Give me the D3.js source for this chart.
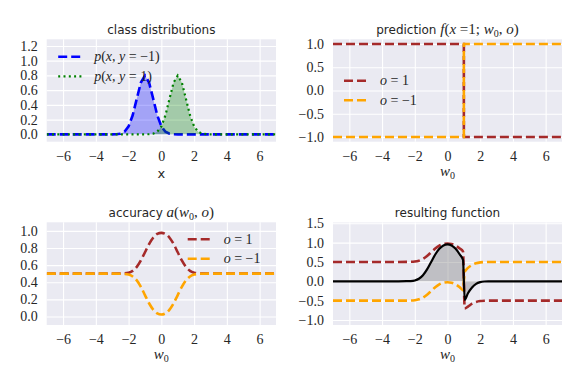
<!DOCTYPE html>
<html>
<head>
<meta charset="utf-8">
<script src="https://cdn.jsdelivr.net/npm/d3@7"></script>
<style>
  body { margin: 0; background: #fff; }
  .title { font-family: "DejaVu Sans", sans-serif; font-size: 12px; fill: #262626; }
  .math { font-family: "Liberation Serif", serif; font-size: 14px; fill: #262626; }
</style>
</head>
<body>
<svg id="chart"></svg>
<script>
// ---- data ----
var xTicks = [-6, -4, -2, 0, 2, 4, 6];

// class distributions
var xDist = [-7,-6,-5,-4,-3,-2.75,-2.5,-2.25,-2,-1.75,-1.5,-1.25,-1,-0.75,-0.5,-0.25,0,0.25,0.5,0.75,1,1.25,1.5,1.75,2,2.25,2.5,2.75,3,4,5,6,7];
var pNeg = [0,0,0,0,0,0.002,0.009,0.035,0.108,0.259,0.484,0.704,0.798,0.704,0.484,0.259,0.108,0.035,0.009,0.002,0,0,0,0,0,0,0,0,0,0,0,0,0];
var pPos = [0,0,0,0,0,0,0,0,0,0,0,0,0,0.002,0.009,0.035,0.108,0.259,0.484,0.704,0.798,0.704,0.484,0.259,0.108,0.035,0.009,0.002,0,0,0,0,0];

// prediction f(x=1; w0, o)
var xPred = [-7, 1, 1, 7];
var predPos = [1, 1, -1, -1];
var predNeg = [-1, -1, 1, 1];

// accuracy a(w0, o)
var xAcc = [-7,-6,-5,-4,-3,-2.5,-2.25,-2,-1.75,-1.5,-1.25,-1,-0.75,-0.5,-0.25,0,0.25,0.5,0.75,1,1.25,1.5,1.75,2,2.25,2.5,3,4,5,6,7];
var accPos = [0.5,0.5,0.5,0.5,0.5,0.501,0.503,0.511,0.533,0.579,0.654,0.75,0.846,0.92,0.964,0.977,0.964,0.92,0.846,0.75,0.654,0.579,0.533,0.511,0.503,0.501,0.5,0.5,0.5,0.5,0.5];
var accNeg = [0.5,0.5,0.5,0.5,0.5,0.499,0.497,0.489,0.467,0.421,0.346,0.25,0.154,0.08,0.036,0.023,0.036,0.08,0.154,0.25,0.346,0.421,0.467,0.489,0.497,0.499,0.5,0.5,0.5,0.5,0.5];

// resulting function
var xRes = [-7,-6,-5,-4,-3,-2.5,-2.25,-2,-1.75,-1.5,-1.25,-1,-0.75,-0.5,-0.25,0,0.25,0.5,0.75,0.95,1.05,1.25,1.5,1.75,2,2.25,2.5,3,4,5,6,7];
var resPos = [0.5,0.5,0.5,0.5,0.5,0.501,0.503,0.511,0.533,0.579,0.654,0.75,0.846,0.92,0.964,0.977,0.964,0.92,0.846,0.77,-0.7,-0.654,-0.579,-0.533,-0.511,-0.503,-0.501,-0.5,-0.5,-0.5,-0.5,-0.5];
var resNeg = [-0.5,-0.5,-0.5,-0.5,-0.5,-0.499,-0.497,-0.489,-0.467,-0.421,-0.346,-0.25,-0.154,-0.08,-0.036,-0.023,-0.036,-0.08,-0.154,-0.23,0.24,0.346,0.421,0.467,0.489,0.497,0.499,0.5,0.5,0.5,0.5,0.5];
var resSum = [0,0,0,0,0,0.002,0.006,0.022,0.066,0.158,0.308,0.5,0.692,0.84,0.928,0.954,0.928,0.84,0.692,0.55,-0.48,-0.308,-0.158,-0.066,-0.022,-0.006,-0.002,0,0,0,0,0];

var brown = "#a52a2a", orange = "#ffa500";
var serif = "'Liberation Serif', serif";

var svg = d3.select("#chart").attr("width", 582).attr("height", 386);

function zip(xs, ys) { return xs.map(function(x, i) { return {x: x, y: ys[i]}; }); }

function rich(sel, parts) {
    parts.forEach(function(p) {
        var t = sel.append("tspan").text(p.t);
        if (p.i) t.style("font-style", "italic");
        if (p.f) t.style("font-family", p.f).style("font-size", p.fs || null);
        if (p.sub) t.style("font-size", "10px").attr("dy", 3);
        if (p.dy) t.attr("dy", p.dy);
    });
}

var panelId = 0;
function makeAxes(box, yDom, yTicks) {
    var id = "clip" + (panelId++);
    var g = svg.append("g").attr("transform", "translate(" + box.left + "," + box.top + ")");
    var x = d3.scaleLinear().domain([-7, 7]).range([0, box.w]);
    var y = d3.scaleLinear().domain(yDom).range([box.h, 0]);

    g.append("rect").attr("width", box.w).attr("height", box.h).attr("fill", "#eaeaf2");
    g.append("clipPath").attr("id", id).append("rect").attr("width", box.w).attr("height", box.h);

    var xa = g.append("g").attr("transform", "translate(0," + box.h + ")")
        .call(d3.axisBottom(x).tickValues(xTicks).tickSizeInner(-box.h).tickSizeOuter(0).tickPadding(9).tickFormat(d3.format("d")));
    var ya = g.append("g")
        .call(d3.axisLeft(y).tickValues(yTicks).tickSizeInner(-box.w).tickSizeOuter(0).tickPadding(9).tickFormat(d3.format(".1f")));
    [xa, ya].forEach(function(a) {
        a.select(".domain").remove();
        a.selectAll("line").attr("stroke", "#fff").attr("stroke-width", 1.1);
        a.selectAll("text")
            .style("font-family", serif)
            .style("font-size", "14px")
            .style("fill", "#262626");
    });

    var plot = g.append("g").attr("clip-path", "url(#" + id + ")");
    return {g: g, plot: plot, x: x, y: y, box: box};
}

function addLine(ax, data, color, width, dash, curve) {
    var line = d3.line().x(function(d) { return ax.x(d.x); }).y(function(d) { return ax.y(d.y); })
        .curve(curve || d3.curveLinear);
    ax.plot.append("path").datum(data).attr("d", line)
        .attr("fill", "none").attr("stroke", color).attr("stroke-width", width)
        .attr("stroke-dasharray", dash);
}

function addArea(ax, data, color, opacity, curve) {
    var area = d3.area().x(function(d) { return ax.x(d.x); }).y0(ax.y(0)).y1(function(d) { return ax.y(d.y); })
        .curve(curve || d3.curveLinear);
    ax.plot.append("path").datum(data).attr("d", area).attr("fill", color).attr("fill-opacity", opacity);
}

function title(ax, parts) {
    var t = ax.g.append("text").attr("class", "title").attr("x", ax.box.w / 2).attr("y", -5.5)
        .attr("text-anchor", "middle");
    rich(t, parts);
}

function mathTitle(label, sym) {
    // "label sym(w0, o)" with the math part in serif
    var m = {f: serif, fs: "15px"};
    return [{t: label + " "}, Object.assign({t: sym, i: true}, m)].concat(sym === "f" ? [
        Object.assign({t: "("}, m), Object.assign({t: "x", i: true}, m), Object.assign({t: " =1; "}, m)
    ] : [Object.assign({t: "("}, m)]).concat([
        Object.assign({t: "w", i: true}, m), {t: "0", sub: true, f: serif},
        Object.assign({t: ", ", dy: -3}, m), Object.assign({t: "o", i: true}, m), Object.assign({t: ")"}, m)
    ]);
}

function xlabelW(ax, yOff) {
    var t = ax.g.append("text").attr("class", "math").attr("x", ax.box.w / 2).attr("y", ax.box.h + yOff)
        .attr("text-anchor", "middle").style("font-size", "15px");
    rich(t, [{t: "w", i: true}, {t: "0", sub: true}]);
}

function legend(ax, x0, y0, rows) {
    rows.forEach(function(r, i) {
        var yy = y0 + i * 19.5;
        ax.g.append("line").attr("x1", x0).attr("x2", x0 + 24).attr("y1", yy).attr("y2", yy)
            .attr("stroke", r.color).attr("stroke-width", r.width).attr("stroke-dasharray", r.dash);
        var t = ax.g.append("text").attr("class", "math").attr("x", x0 + 36).attr("y", yy + 4.5);
        rich(t, r.label);
    });
}

var dashed = "9,4";
var dotted = "2,3.3";
var smooth = d3.curveMonotoneX;

// ---- panel 1: class distributions ----
var a1 = makeAxes({left: 46.7, top: 39.3, w: 229.3, h: 102.4}, [-0.1, 1.29], [0, 0.2, 0.4, 0.6, 0.8, 1.0, 1.2]);
addArea(a1, zip(xDist, pNeg), "blue", 0.3);
addLine(a1, zip(xDist, pNeg), "blue", 2.6, dashed);
addArea(a1, zip(xDist, pPos), "green", 0.3);
addLine(a1, zip(xDist, pPos), "green", 2.2, dotted);
title(a1, [{t: "class distributions"}]);
a1.g.append("text").attr("class", "title").attr("x", a1.box.w / 2).attr("y", a1.box.h + 36)
    .attr("text-anchor", "middle").style("font-size", "13px").text("x");
legend(a1, 11.5, 17.5, [
    {color: "blue", width: 2.6, dash: dashed,
     label: [{t: "p", i: true}, {t: "("}, {t: "x", i: true}, {t: ", "}, {t: "y", i: true}, {t: " = −1)"}]},
    {color: "green", width: 2.2, dash: dotted,
     label: [{t: "p", i: true}, {t: "("}, {t: "x", i: true}, {t: ", "}, {t: "y", i: true}, {t: " = 1)"}]}
]);

// ---- panel 2: prediction ----
var a2 = makeAxes({left: 333, top: 39.3, w: 229, h: 102.4}, [-1.1, 1.1], [-1, -0.5, 0, 0.5, 1]);
addLine(a2, zip(xPred, predPos), brown, 2.6, dashed);
addLine(a2, zip(xPred, predNeg), orange, 2.6, dashed);
title(a2, mathTitle("prediction", "f"));
xlabelW(a2, 34);
legend(a2, 11, 41.5, [
    {color: brown, width: 2.6, dash: dashed, label: [{t: "o", i: true}, {t: " = 1"}]},
    {color: orange, width: 2.6, dash: dashed, label: [{t: "o", i: true}, {t: " = −1"}]}
]);

// ---- panel 3: accuracy ----
var a3 = makeAxes({left: 46.7, top: 222.3, w: 229.3, h: 102.7}, [-0.1, 1.1], [0, 0.2, 0.4, 0.6, 0.8, 1.0]);
addLine(a3, zip(xAcc, accPos), brown, 2.6, dashed, smooth);
addLine(a3, zip(xAcc, accNeg), orange, 2.6, dashed, smooth);
title(a3, mathTitle("accuracy", "a"));
xlabelW(a3, 34);
legend(a3, 141, 17, [
    {color: brown, width: 2.6, dash: dashed, label: [{t: "o", i: true}, {t: " = 1"}]},
    {color: orange, width: 2.6, dash: dashed, label: [{t: "o", i: true}, {t: " = −1"}]}
]);

// ---- panel 4: resulting function ----
var a4 = makeAxes({left: 333, top: 222.5, w: 229, h: 102.5}, [-1.13, 1.52], [-1, -0.5, 0, 0.5, 1, 1.5]);
addArea(a4, zip(xRes, resSum), "gray", 0.4, smooth);
addLine(a4, zip(xRes, resPos), brown, 2.6, dashed, smooth);
addLine(a4, zip(xRes, resNeg), orange, 2.6, dashed, smooth);
addLine(a4, zip(xRes, resSum), "black", 2.2, null, smooth);
title(a4, [{t: "resulting function"}]);
xlabelW(a4, 34);
</script>
</body>
</html>
